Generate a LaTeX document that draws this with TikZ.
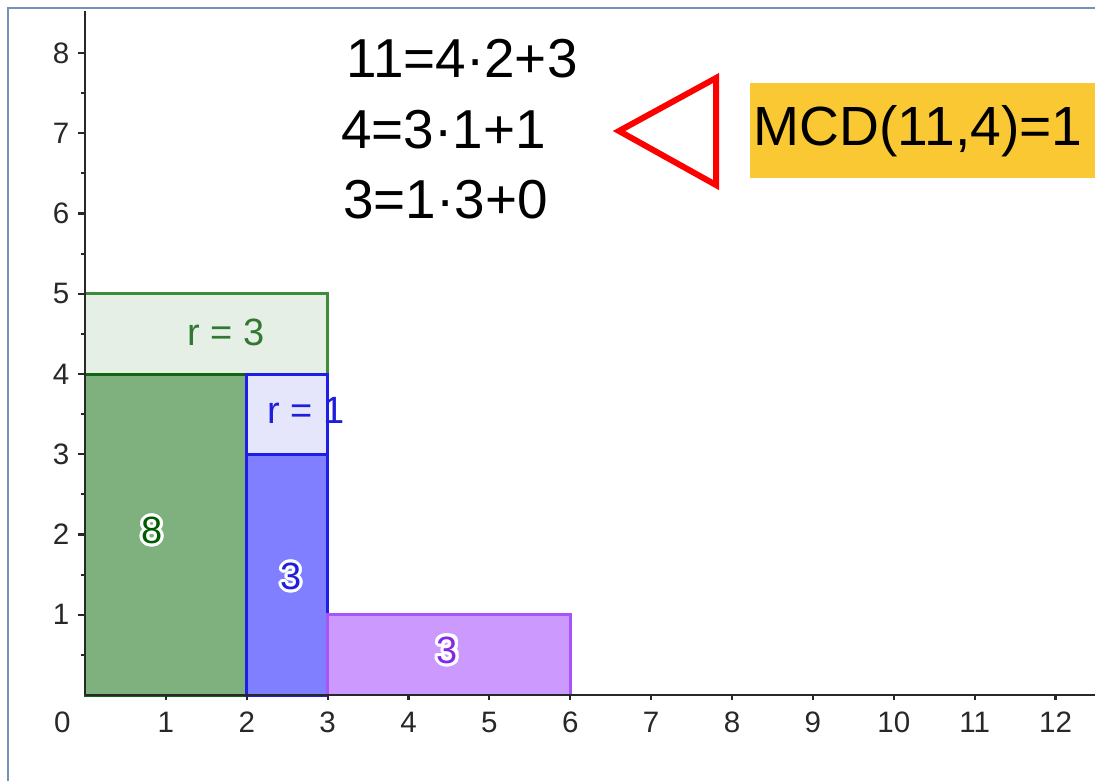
\documentclass[tikz,border=0pt]{standalone}
\usepackage{fontspec}
\setmainfont{Liberation Sans}
\usepackage{contour}
\contourlength{0.9pt}
\definecolor{framecol}{RGB}{115,145,185}
\definecolor{boxorange}{RGB}{250,200,50}
\definecolor{lgreenfill}{RGB}{229,239,229}
\definecolor{lgreenline}{RGB}{60,140,60}
\definecolor{lgreentext}{RGB}{50,120,50}
\definecolor{dgreenfill}{RGB}{127,177,127}
\definecolor{dgreenline}{RGB}{20,100,20}
\definecolor{dgreentext}{RGB}{0,90,0}
\definecolor{lbluefill}{RGB}{229,229,252}
\definecolor{bluefill}{RGB}{127,127,255}
\definecolor{blueline}{RGB}{30,30,230}
\definecolor{bluetext}{RGB}{30,30,220}
\definecolor{purplefill}{RGB}{204,153,255}
\definecolor{purpleline}{RGB}{165,85,250}
\definecolor{purpletext}{RGB}{130,40,230}
\definecolor{axiscol}{RGB}{40,40,40}
\tikzset{
  axisline/.style={axiscol, line width=0.6pt},
  ticklab/.style={font=\fontsize{8.4pt}{10pt}\selectfont, inner sep=0pt, text=axiscol},
  eqtext/.style={anchor=base west, inner sep=0pt, font=\fontsize{15.6pt}{18pt}\selectfont},
  polylab/.style={inner sep=0pt, font=\fontsize{10.8pt}{13pt}\selectfont},
  borderline/.style={line width=0.85pt, line join=miter}
}
\begin{document}
\begin{tikzpicture}[x=0.01cm, y=-0.01cm]
\useasboundingbox (0,0) rectangle (1095,781);
\fill[white] (0,0) rectangle (1095,781);
% frame
\draw[framecol, line width=0.6pt] (8,781) -- (8,8) -- (1095,8);

% data area
\begin{scope}[shift={(85,695)}, x=0.8083cm, y=0.802cm]
  % rectangles
  \fill[lgreenfill] (0,4) rectangle (3,5);
  \draw[borderline, lgreenline] (0,4) rectangle (3,5);
  \fill[dgreenfill] (0,0) rectangle (2,4);
  \draw[borderline, dgreenline] (0,0) rectangle (2,4);
  \fill[lbluefill] (2,3) rectangle (3,4);
  \draw[borderline, blueline] (2,3) rectangle (3,4);
  \fill[bluefill] (2,0) rectangle (3,3);
  \draw[borderline, blueline] (2,0) rectangle (3,3);
  \fill[purplefill] (3,0) rectangle (6,1);
  \draw[borderline, purpleline, line width=0.75pt] (3,0) rectangle (6,1);
  % axes
  \draw[axisline] (0,0) -- (12.5,0);
  \draw[axisline] (0,0) -- (0,8.52);
  \foreach \k in {1,...,12} {
    \draw[axisline] (\k,0) -- (\k,-0.065);
    \node[ticklab] (xl\k) at (\k,-0.337) {\k};
  }
  \node[ticklab] (xl0) at (-0.28,-0.337) {0};
  \foreach \k in {1,...,8} {
    \draw[axisline] (0,\k) -- (-0.09,\k);
    \node[ticklab, anchor=east] (yl\k) at (-0.186,\k) {\k};
  }
  \foreach \k in {0.5,1.5,...,7.5} {
    \draw[axisline] (0,\k) -- (-0.05,\k);
  }
  % polygon labels
  \node[polylab, text=lgreentext] (r3) at (1.745,4.514) {r = 3};
  \node[polylab, text=bluetext] (r1) at (2.73,3.55) {r = 1};
  \node[polylab] (l8) at (0.83,2.03) {\contour{white}{\textcolor{dgreentext}{8}}};
  \node[polylab] (l3b) at (2.55,1.46) {\contour{white}{\textcolor{bluetext}{3}}};
  \node[polylab] (l3p) at (4.48,0.54) {\contour{white}{\textcolor{purpletext}{3}}};
\end{scope}

% equations
\node[eqtext] (eq1) at (346,77) {11=4·2+3};
\node[eqtext] (eq2) at (340.5,148) {4=3·1+1};
\node[eqtext] (eq3) at (342.5,218) {3=1·3+0};

% red triangle
\draw[red, line width=1.7pt, line join=miter] (619,131) -- (716,78) -- (716,185) -- cycle;

% MCD box
\fill[boxorange] (750,83) rectangle (1095,178);
\node[anchor=base west, inner sep=0pt, font=\fontsize{15.7pt}{18pt}\selectfont] (mcd) at (753,145) {MCD(11,4)=1};
\end{tikzpicture}
\end{document}
